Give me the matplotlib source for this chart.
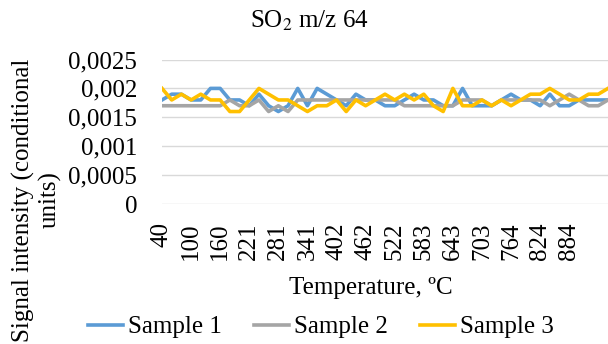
import matplotlib
matplotlib.use("Agg")
import matplotlib.pyplot as plt
import numpy as np

plt.rcParams['font.family'] = ['Liberation Serif', 'DejaVu Serif']
plt.rcParams['mathtext.fontset'] = 'stix'

# temperature categories, ºC
temps = [40, 60, 80, 100, 120, 140, 160, 180, 201, 221, 241, 261, 281, 301, 321,
         341, 362, 382, 402, 422, 442, 462, 482, 502, 522, 543, 563, 583, 603, 623,
         643, 663, 683, 703, 723, 744, 764, 784, 804, 824, 844, 864, 884, 904, 924,
         944, 965]

sample1 = [0.0018, 0.0019, 0.0019, 0.0018, 0.0018, 0.0020, 0.0020, 0.0018, 0.0018, 0.0017,
           0.0019, 0.0017, 0.0016, 0.0017, 0.0020, 0.0017, 0.0020, 0.0019, 0.0018, 0.0017,
           0.0019, 0.0018, 0.0018, 0.0017, 0.0017, 0.0018, 0.0019, 0.0018, 0.0018, 0.0017,
           0.0017, 0.0020, 0.0017, 0.0017, 0.0017, 0.0018, 0.0019, 0.0018, 0.0018, 0.0017,
           0.0019, 0.0017, 0.0017, 0.0018, 0.0018, 0.0018, 0.0018]
sample2 = [0.0017, 0.0017, 0.0017, 0.0017, 0.0017, 0.0017, 0.0017, 0.0018, 0.0017, 0.0017,
           0.0018, 0.0016, 0.0017, 0.0016, 0.0018, 0.0018, 0.0018, 0.0018, 0.0018, 0.0018,
           0.0018, 0.0018, 0.0018, 0.0018, 0.0018, 0.0017, 0.0017, 0.0017, 0.0017, 0.0017,
           0.0017, 0.0018, 0.0018, 0.0018, 0.0017, 0.0018, 0.0018, 0.0018, 0.0018, 0.0018,
           0.0017, 0.0018, 0.0019, 0.0018, 0.0017, 0.0017, 0.0018]
sample3 = [0.0020, 0.0018, 0.0019, 0.0018, 0.0019, 0.0018, 0.0018, 0.0016, 0.0016, 0.0018,
           0.0020, 0.0019, 0.0018, 0.0018, 0.0017, 0.0016, 0.0017, 0.0017, 0.0018, 0.0016,
           0.0018, 0.0017, 0.0018, 0.0019, 0.0018, 0.0019, 0.0018, 0.0019, 0.0017, 0.0016,
           0.0020, 0.0017, 0.0017, 0.0018, 0.0017, 0.0018, 0.0017, 0.0018, 0.0019, 0.0019,
           0.0020, 0.0019, 0.0018, 0.0018, 0.0019, 0.0019, 0.0020]

yticks = [0, 0.0005, 0.001, 0.0015, 0.002, 0.0025]
ylabels = ['0', '0,0005', '0,001', '0,0015', '0,002', '0,0025']

fs = 18

fig = plt.figure(figsize=(6.08, 3.44), dpi=100)
ax = fig.add_axes([162/608, 1-204/344, (608-162)/608, (204-59.5)/344])

x = np.arange(len(temps))
ax.plot(x, sample1, color='#5B9BD5', lw=2.6, label='Sample 1')
ax.plot(x, sample2, color='#A5A5A5', lw=2.6, label='Sample 2')
ax.plot(x, sample3, color='#FFC000', lw=2.6, label='Sample 3')

ax.set_xlim(0, len(temps)-1)
ax.set_ylim(0, 0.0025)
ax.set_yticks(yticks)
ax.set_yticklabels(ylabels, fontsize=fs)
ax.set_xticks(x[:43:3])
ax.set_xticklabels([str(t) for t in temps[:43:3]], rotation=90, fontsize=fs)
ax.tick_params(axis='both', length=0)
ax.tick_params(axis='y', pad=18)
ax.tick_params(axis='x', pad=13)
ax.grid(axis='y', color='#D9D9D9', lw=1)
ax.set_axisbelow(True)
for s in ax.spines.values():
    s.set_visible(False)

fig.text(309/608, 1-21/344, 'SO$_2$ m/z 64', ha='center', va='center', fontsize=fs)
fig.text(371/608, 1-288/344, 'Temperature, ºC', ha='center', va='center', fontsize=fs)
fig.text(37/608, 1-200/344, 'Signal intensity (conditional\nunits)', rotation=90,
         ha='center', va='center', multialignment='center', fontsize=fs, linespacing=1.2)

fig.legend(loc='center', bbox_to_anchor=(321/608, 1-327/344), ncol=3, frameon=False,
           fontsize=fs, handlelength=1.4, handletextpad=0.2, columnspacing=1.3,
           borderpad=0)

fig.savefig('out.png', dpi=100)
